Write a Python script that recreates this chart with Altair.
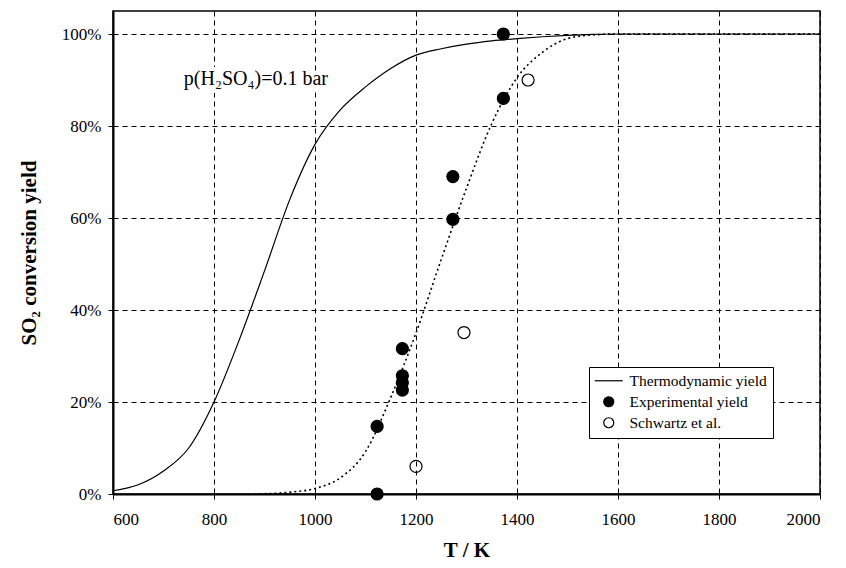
import altair as alt
import pandas as pd

FONT = "Liberation Serif"

# Thermodynamic yield curve (solid)
thermo_T = [600, 650, 700, 750, 800, 850, 900, 950, 1000, 1050, 1100, 1150, 1200,
            1250, 1300, 1350, 1400, 1450, 1500, 1550, 1600, 1700, 1800, 1900, 2000]
thermo_Y = [0.007, 0.02, 0.05, 0.10, 0.20, 0.335, 0.485, 0.64, 0.76, 0.835, 0.885, 0.925, 0.954,
            0.968, 0.978, 0.985, 0.99, 0.994, 0.997, 0.999, 1.0, 1.0, 1.0, 1.0, 1.0]

# Kinetic fit curve (dotted)
fit_T = [880, 950, 1000, 1050, 1100, 1150, 1200, 1250, 1300, 1350, 1400, 1450, 1500,
         1550, 1600, 1800, 2000]
fit_Y = [0.0, 0.004, 0.012, 0.035, 0.092, 0.21, 0.35, 0.51, 0.665, 0.805, 0.905, 0.96, 0.99,
         0.998, 1.0, 1.0, 1.0]

# Experimental yield (filled circles)
exp_T = [1373, 1373, 1273, 1273, 1173, 1173, 1173, 1173, 1123, 1123]
exp_Y = [1.0, 0.86, 0.69, 0.597, 0.316, 0.257, 0.242, 0.226, 0.147, 0.0]

# Schwartz et al. (open circles)
sch_T = [1200, 1295, 1422]
sch_Y = [0.06, 0.351, 0.90]

legend_names = ["Thermodynamic yield", "Experimental yield", "Schwartz et al."]
x_ticks = [600, 800, 1000, 1200, 1400, 1600, 1800, 2000]
y_ticks = [0.0, 0.2, 0.4, 0.6, 0.8, 1.0]

note_text = "p(H₂SO₄)=0.1 bar"
note_T = 883
note_Y = 0.903

thermo_df = pd.DataFrame({"T": thermo_T, "Y": thermo_Y})
fit_df = pd.DataFrame({"T": fit_T, "Y": fit_Y})
pts_df = pd.DataFrame({
    "T": exp_T + sch_T,
    "Y": exp_Y + sch_Y,
    "series": [legend_names[1]] * len(exp_T) + [legend_names[2]] * len(sch_T),
})

x_enc = alt.X("T:Q", scale=alt.Scale(domain=[600, 2000], nice=False, zero=False),
              axis=alt.Axis(values=x_ticks, title="T / K", format="d",
                            labelPadding=12, titlePadding=12))
y_enc = alt.Y("Y:Q", scale=alt.Scale(domain=[0, 1.05], nice=False, zero=False),
              axis=alt.Axis(values=y_ticks, format=".0%", title="SO₂ conversion yield",
                            labelPadding=7, titlePadding=22))

thermo = alt.Chart(thermo_df).mark_line(color="black", strokeWidth=1.2, interpolate="monotone").encode(
    x=x_enc, y=y_enc)

fit = alt.Chart(fit_df).mark_line(color="black", strokeWidth=1.6, strokeDash=[2, 3],
                                  interpolate="monotone").encode(x=x_enc, y=y_enc)

leg = alt.Legend(title=None, orient="none", legendX=476, legendY=356,
                 strokeColor="black", fillColor="white", padding=6,
                 labelFont=FONT, labelFontSize=15.5, labelColor="black",
                 symbolSize=100, symbolStrokeWidth=1.2, symbolOffset=6,
                 rowPadding=4, labelOffset=13)

pts = alt.Chart(pts_df).mark_point(filled=True, strokeWidth=1.2,
                                   opacity=1, size=144).encode(
    x=x_enc, y=y_enc,
    shape=alt.Shape("series:N", scale=alt.Scale(domain=legend_names,
                                                 range=["M-2.8,0L2.8,0", "circle", "circle"]),
                    legend=leg),
    fill=alt.Fill("series:N", scale=alt.Scale(domain=legend_names,
                                               range=["transparent", "black", "transparent"]),
                  legend=leg),
    stroke=alt.Stroke("series:N", scale=alt.Scale(domain=legend_names,
                                                   range=["black", "black", "black"]),
                      legend=leg),
)

note_src = pd.DataFrame({"a": [0]})
note_bg = alt.Chart(note_src).mark_text(
    font=FONT, fontSize=20, color="white", stroke="white", strokeWidth=8,
    align="center", baseline="middle").encode(
    x=alt.datum(note_T), y=alt.datum(note_Y), text=alt.value(note_text))
note = alt.Chart(note_src).mark_text(
    font=FONT, fontSize=20, color="black", align="center", baseline="middle").encode(
    x=alt.datum(note_T), y=alt.datum(note_Y), text=alt.value(note_text))

chart = alt.layer(note_bg, note, thermo, fit, pts).properties(
    width=707, height=483,
    autosize=alt.AutoSizeParams(type="none"),
    padding={"left": 105, "top": 3, "right": 15, "bottom": 74},
    background="white",
).configure_view(
    stroke="black", strokeWidth=1.5
).configure_axis(
    domainColor="black", domainWidth=2, tickColor="black", tickSize=5, tickWidth=1,
    labelColor="black", labelFont=FONT, labelFontSize=17,
    titleColor="black", titleFont=FONT, titleFontSize=21, titleFontWeight="bold",
    grid=True, gridColor="black", gridDash=[5, 4], gridWidth=1, gridOpacity=1,
)

chart.save("out.html", embed_options={"renderer": "svg", "actions": False})
